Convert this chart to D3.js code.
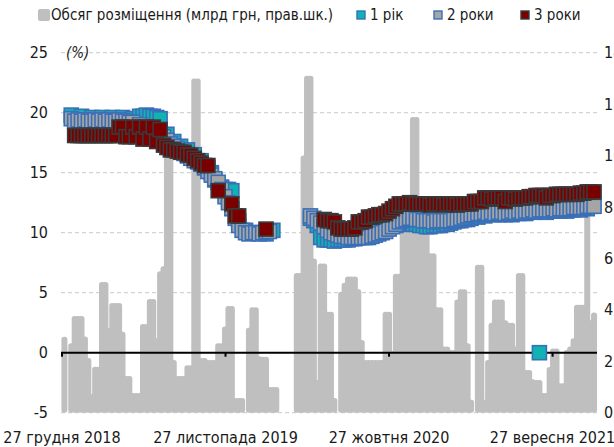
<!DOCTYPE html>
<html>
<head>
<meta charset="utf-8">
<script src="https://cdn.jsdelivr.net/npm/d3@7"></script>
<style>
  body { margin: 0; background: #fff; }
  text { font-family: "Liberation Sans Narrow", "DejaVu Sans Condensed", sans-serif; fill: #1a1a1a; }
</style>
</head>
<body>
<svg id="main-svg"></svg>
<script>
// weekly auctions, first week starts 1 Jan 2019
var firstWeek = new Date(2019, 0, 1);

// placement volume, bn UAH (right axis)
var volume = [
  2.95, 0, 2.7, 3.76, 3.76, 3.76, 2.96, 2.13, 0.73, 1.79,
  1.79, 5.08, 5.08, 3.3, 4.27, 4.27, 4.27, 3.15, 1.43, 1.43,
  0.77, 0.77, 0.77, 3.45, 3.45, 4.42, 4.42, 2.9, 5.5, 5.7,
  10.1, 10.1, 2.05, 1.43, 1.43, 1.43, 1.85, 1.85, 13.0, 13.0,
  2.13, 2.13, 2.05, 2.05, 2.05, 2.7, 2.7, 3.35, 4.15, 4.15,
  0.57, 0.57, 0.57, 0, 3.3, 4.1, 4.1, 2.2, 2.18, 2.18,
  1.0, 1.0, 1.0, 0, 0, 0, 0, 0, 5.43, 5.43,
  10.0, 13.1, 13.1, 6.0, 1.27, 5.8, 5.8, 3.93, 3.93, 0.57,
  0, 4.7, 5.05, 5.3, 5.3, 5.3, 4.8, 2.83, 2.05, 2.05,
  2.05, 2.05, 2.05, 2.05, 3.93, 3.93, 2.4, 5.4, 5.4, 7.1,
  7.1, 7.1, 11.5, 11.5, 7.0, 7.0, 7.0, 6.2, 6.2, 4.1,
  4.1, 2.57, 2.57, 2.44, 2.44, 4.4, 4.8, 4.8, 2.7, 0.5,
  0, 5.75, 5.75, 0.5, 2.05, 3.5, 4.4, 4.4, 4.4, 3.6,
  3.5, 3.5, 2.57, 5.43, 5.43, 1.66, 1.66, 1.3, 1.27, 1.27,
  0.77, 0.77, 1.78, 2.5, 2.5, 1.15, 1.15, 2.44, 2.57, 2.9,
  4.2, 4.2, 4.2, 8.3, 3.6, 3.9
];

// yields, % (left axis); null = no placement that week
var yield1 = [
  null, null, 19.8, null, null, 19.7, null, null, 19.6, null,
  null, 19.6, null, null, 19.6, null, null, 19.6, null, null,
  19.5, null, 19.7, 19.7, 19.8, 19.7, 19.7, 19.6, 19.5, null,
  18.2, null, 17.6, null, 17.2, null, 16.9, null, 16.5, null,
  16.0, null, 15.4, 15.0, 14.4, null, 13.8, 13.6, 13.6, 13.5,
  null, 11.0, null, 10.2, null, 10.0, null, 10.0, null, 9.9,
  null, 10.2, null, null, null, null, null, null, null, null,
  null, null, 11.2, 11.0, 10.6, 9.6, 9.4, 9.4, 9.4, 9.3,
  9.4, 9.4, 9.4, 9.4, 9.5, 9.5, 9.6, 9.8, null, 10.0,
  null, 10.1, null, 10.2, null, 10.4, null, 10.6, null, 10.7,
  10.7, 10.8, 10.7, 10.7, 10.6, 10.6, 10.5, 10.5, 10.6, 10.6,
  10.6, 10.7, 10.7, 10.8, 10.9, 11.0, 11.0, 11.1, 11.1, 11.2,
  null, 11.3, null, 11.4, null, 11.5, null, 11.5, null, 11.5,
  null, 11.5, null, 11.6, null, 11.6, null, 11.7, null, 0,
  null, 11.7, null, 11.8, null, 11.8, null, 11.8, null, 11.9,
  null, 11.9, null, 12.0, null, null
];

var yield2 = [
  null, null, 19.5, 19.3, 19.4, 19.3, 19.4, 19.3, 19.3, 19.4,
  19.3, 19.4, 19.3, 19.4, 19.3, 19.3, 19.4, 19.3, 19.3, 19.2,
  19.2, null, 19.0, null, null, null, null, null, null, 18.0,
  17.7, 17.4, 17.2, 17.0, 16.8, 16.6, 16.4, 16.2, 16.0, 15.9,
  15.7, 15.4, 15.1, 14.8, 14.5, 14.2, 13.6, 13.0, 12.5, 12.0,
  11.2, 10.6, 10.2, 10.0, 9.9, 10.0, 10.0, 9.9, 10.0, 10.1,
  10.1, null, null, null, null, null, null, null, null, null,
  null, null, 11.4, 11.2, 11.0, 10.8, 10.5, 10.2, 10.0, 9.9,
  9.8, 9.7, 9.7, 9.6, 9.6, 9.6, 9.6, 9.6, 9.6, 9.6,
  9.7, 9.8, 9.9, 10.0, 10.1, 10.3, 10.5, 10.7, 10.9, 11.0,
  11.1, 11.2, 11.2, 11.1, 11.1, 11.0, 11.0, 11.0, 10.9, 11.0,
  11.0, 11.0, 11.0, 11.0, 11.1, 11.1, 11.2, 11.3, 11.4, 11.5,
  11.5, 11.6, 11.6, 11.7, 11.6, 11.7, 11.6, 11.7, 11.7, 11.6,
  11.7, 11.8, 11.7, 11.8, 11.7, 11.8, 11.8, 11.9, 11.8, 11.9,
  11.9, 11.9, 11.9, 12.0, 11.9, 12.0, 12.0, 12.0, 12.0, 12.1,
  12.1, 12.1, 12.1, 12.2, 12.2, 12.2
];

var yield3 = [
  null, null, null, 18.1, 18.1, 18.1, 18.1, 18.1, 18.1, 18.1,
  18.1, 18.1, 18.1, 18.1, 18.1, 18.1, 18.8, 18.8, 18.0, 18.0,
  18.8, 18.0, 18.8, 17.8, 18.8, 17.8, 18.8, 17.6, 18.6, 17.3,
  17.1, 16.9, 16.9, 16.8, 16.7, 16.7, 16.5, 16.45, 16.2, 16.0,
  15.8, 15.6, 15.6, null, null, 13.5, null, null, null, 12.4,
  11.4, 11.4, null, null, null, null, null, null, null, 10.3,
  null, null, null, null, null, null, null, null, null, null,
  null, null, null, null, null, null, 11.1, 11.0, 11.0, 10.9,
  10.4, 10.3, 10.3, 10.3, 10.3, 10.4, 10.9, 10.9, 11.0, 11.3,
  11.3, 11.4, 11.5, 11.5, 11.6, 11.8, 12.0, 12.2, 12.4, 12.4,
  12.4, 12.5, 12.4, 12.4, 12.4, 12.4, 12.4, 12.3, 12.4, 12.4,
  12.4, 12.3, 12.4, 12.4, 12.4, 12.3, 12.4, 12.4, 12.4, 12.4,
  12.6, 12.6, 12.6, 12.9, 12.9, 12.8, 12.9, 12.9, 12.9, 12.6,
  12.9, 12.9, 12.8, 12.9, 12.9, 12.9, 13.0, 13.0, 13.1, 13.1,
  13.1, 12.9, 13.1, 13.1, 13.2, 13.2, 13.2, 13.2, 13.2, 13.2,
  13.2, 13.3, 13.3, 13.4, 13.4, 13.4
];

var seriesNames = ["1 рік", "2 роки", "3 роки"];
var volumeName = "Обсяг розміщення (млрд грн, прав.шк.)";
var leftTicks = [-5, 0, 5, 10, 15, 20, 25];
var rightTicks = [0, 2, 4, 6, 8, 10, 12, 14];
var xTickDates = [new Date(2018, 11, 27), new Date(2019, 10, 27), new Date(2020, 9, 27), new Date(2021, 8, 27)];
var monthNames = ["січня", "лютого", "березня", "квітня", "травня", "червня", "липня", "серпня", "вересня", "жовтня", "листопада", "грудня"];

var width = 614,
  height = 447,
  plotLeft = 61,
  plotRight = 597,
  plotTop = 52.7,
  plotBottom = 412.7;

var svg = d3.select("#main-svg").attr("width", width).attr("height", height);

var dates = volume.map(function (v, i) { return d3.timeDay.offset(firstWeek, 7 * i) });

var x = d3.scaleTime().domain([new Date(2018, 11, 25), new Date(2021, 11, 27)]).range([plotLeft, plotRight]);
var yL = d3.scaleLinear().domain([-5, 25]).range([plotBottom, plotTop]);
var yR = d3.scaleLinear().domain([0, 14]).range([plotBottom, plotTop]);

var colors = {
  bar: "#bfbfbf",
  teal: "#10b3b3",
  gray: "#a5a5a5",
  red: "#7a0000",
  blue: "#3a6fb8",
  redEdge: "#3a3a3a"
};

// gridlines
svg.append("g").selectAll("line").data(leftTicks.filter(function (t) { return t !== 0 })).enter().append("line")
  .attr("x1", plotLeft).attr("x2", plotRight)
  .attr("y1", function (d) { return yL(d) }).attr("y2", function (d) { return yL(d) })
  .attr("stroke", "#c8c8c8").attr("stroke-width", 1).attr("stroke-dasharray", "4,3");

// volume bars (thick rounded outline, like the original)
var sw = 5.5;
svg.append("g").selectAll("rect").data(volume.map(function (v, i) { return { d: dates[i], v: v } }).filter(function (p) { return p.v > 0 }))
  .enter().append("rect")
  .attr("x", function (p) { return x(p.d) - 0.25 })
  .attr("width", 0.5)
  .attr("y", function (p) { return Math.min(yR(p.v) + sw / 2, yR(0) - sw / 2) })
  .attr("height", function (p) { return Math.max(0, yR(0) - sw / 2 - (yR(p.v) + sw / 2)) })
  .attr("fill", colors.bar).attr("stroke", colors.bar)
  .attr("stroke-width", sw).attr("stroke-linejoin", "round");

// zero line + date ticks
var y0 = yL(0);
svg.append("line").attr("x1", plotLeft).attr("x2", plotRight).attr("y1", y0).attr("y2", y0)
  .attr("stroke", "#000").attr("stroke-width", 2);
svg.append("g").selectAll("line").data(xTickDates).enter().append("line")
  .attr("x1", function (d) { return x(d) }).attr("x2", function (d) { return x(d) })
  .attr("y1", y0).attr("y2", y0 + 4)
  .attr("stroke", "#000").attr("stroke-width", 2);

// markers
var ms = 14;
function drawSeries(vals, fill, edge) {
  var pts = vals.map(function (v, i) { return { d: dates[i], v: v } }).filter(function (p) { return p.v !== null });
  svg.append("g").selectAll("rect").data(pts).enter().append("rect")
    .attr("x", function (p) { return x(p.d) - ms / 2 })
    .attr("y", function (p) { return yL(p.v) - ms / 2 })
    .attr("width", ms).attr("height", ms)
    .attr("fill", fill).attr("stroke", edge).attr("stroke-width", 1.6);
}
drawSeries(yield1, colors.teal, colors.blue);
drawSeries(yield2, colors.gray, colors.blue);
drawSeries(yield3, colors.red, colors.redEdge);

// left axis labels
svg.append("g").selectAll("text").data(leftTicks).enter().append("text")
  .attr("x", 48).attr("y", function (d) { return yL(d) }).attr("dy", "0.35em")
  .attr("text-anchor", "end").attr("font-size", 16).text(function (d) { return d });
svg.append("text").attr("x", 66).attr("y", yL(25)).attr("dy", "0.35em")
  .attr("font-size", 15).attr("font-style", "italic").text("(%)");

// right axis labels (cut by the frame as in the original)
svg.append("g").selectAll("text").data(rightTicks).enter().append("text")
  .attr("x", 604).attr("y", function (d) { return yR(d) }).attr("dy", "0.35em")
  .attr("font-size", 16).text(function (d) { return d });

// x labels
svg.append("g").selectAll("text").data(xTickDates).enter().append("text")
  .attr("x", function (d) { return x(d) }).attr("y", 443)
  .attr("text-anchor", "middle").attr("font-size", 16)
  .text(function (d) { return d.getDate() + " " + monthNames[d.getMonth()] + " " + d.getFullYear() });

// legend
var lg = svg.append("g");
lg.append("rect").attr("x", 38).attr("y", 9).attr("width", 12).attr("height", 12).attr("rx", 2).attr("fill", colors.bar);
lg.append("text").attr("x", 51).attr("y", 15).attr("dy", "0.35em").attr("font-size", 15).text(volumeName);
var legendItems = [
  { name: seriesNames[0], x: 357, fill: colors.teal, edge: colors.blue },
  { name: seriesNames[1], x: 434, fill: colors.gray, edge: colors.blue },
  { name: seriesNames[2], x: 521, fill: colors.red, edge: colors.redEdge }
];
legendItems.forEach(function (it) {
  lg.append("rect").attr("x", it.x).attr("y", 11).attr("width", 8).attr("height", 8)
    .attr("fill", it.fill).attr("stroke", it.edge).attr("stroke-width", 1.4);
  lg.append("text").attr("x", it.x + 13).attr("y", 15).attr("dy", "0.35em").attr("font-size", 15).text(it.name);
});
</script>
</body>
</html>
